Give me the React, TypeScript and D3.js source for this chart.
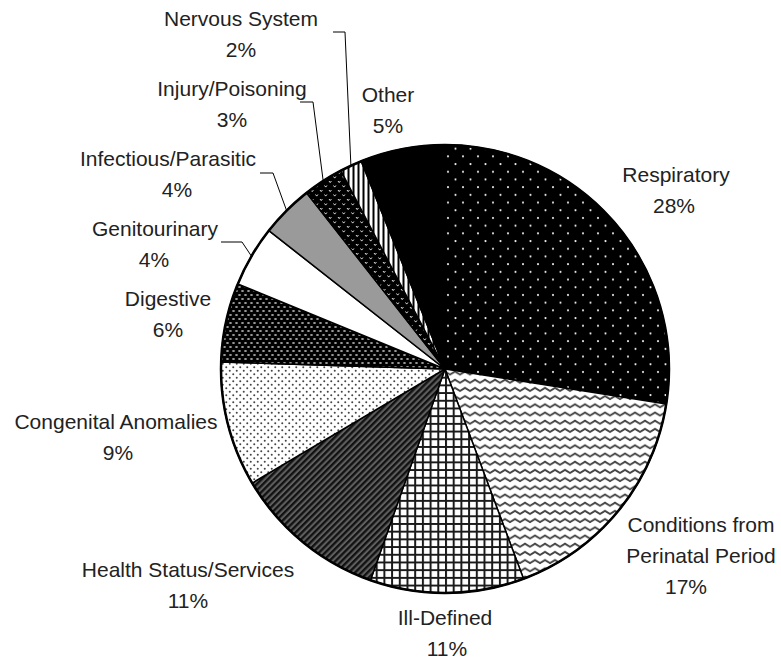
import React from "react"
import * as d3 from "d3"

// slice order is clockwise from 12 o'clock
const categories = [
  "Respiratory",
  "Conditions from Perinatal Period",
  "Ill-Defined",
  "Health Status/Services",
  "Congenital Anomalies",
  "Digestive",
  "Genitourinary",
  "Infectious/Parasitic",
  "Injury/Poisoning",
  "Nervous System",
  "Other",
]
const shares = [27.5, 16.8, 11.1, 11.1, 9.0, 5.7, 4.4, 3.8, 2.9, 1.6, 6.1]
const pctLabels = ["28%", "17%", "11%", "11%", "9%", "6%", "4%", "4%", "3%", "2%", "5%"]

// label lines and where the label block sits (centre of first line)
const labelLines = [
  ["Respiratory"],
  ["Conditions from", "Perinatal Period"],
  ["Ill-Defined"],
  ["Health Status/Services"],
  ["Congenital Anomalies"],
  ["Digestive"],
  ["Genitourinary"],
  ["Infectious/Parasitic"],
  ["Injury/Poisoning"],
  ["Nervous System"],
  ["Other"],
]
const labelPos = [
  [676, 174], [701, 524], [445, 617], [188, 569], [116, 421], [168, 298],
  [155, 228], [168, 158], [232, 88], [241, 18], [388, 94],
]
const pctX = [674, 686, 447, 188, 118, 168, 154, 177, 232, 241, 388]
// leader: [startX, elbowX, y] for small slices
const leaders: (number[] | null)[] = [
  null, null, null, null, null, null,
  [221, 242, 242], [260, 273, 173], [300, 313, 102], [333, 345, 32], null,
]
const fills = [
  "url(#pResp)", "url(#pWave)", "url(#pGrid)", "url(#pDiag)", "url(#pDots)",
  "url(#pWeave)", "#fff", "#9a9a9a", "url(#pChev)", "url(#pVert)", "#000",
]

const W = 781, H = 661
const cx = 445, cy = 369, R = 224
const lineH = 31

export default function App() {
  const pie = d3.pie<number>().sort(null).value(d => d)
  const arcs = pie(shares)
  const arc = d3.arc<d3.PieArcDatum<number>>().innerRadius(0).outerRadius(R)

  return (
    <svg width={W} height={H} style={{position: "absolute", left: 0, top: 0}}
      fontFamily="'Liberation Sans', Arial, sans-serif" fontSize={21}>
      <defs>
        <pattern id="pResp" width={15} height={15.4} patternUnits="userSpaceOnUse">
          <rect width={15} height={15.4} fill="#000" />
          <circle cx={3} cy={3} r={1.1} fill="#eee" />
          <circle cx={10.5} cy={10.7} r={1.1} fill="#eee" />
        </pattern>
        <pattern id="pWave" width={10} height={8.2} patternUnits="userSpaceOnUse">
          <rect width={10} height={8.2} fill="#fff" />
          <path d="M-2.5,4 L0,2.5 L5,5.5 L10,2.5 L12.5,4" fill="none" stroke="#444" strokeWidth={1.9} />
        </pattern>
        <pattern id="pGrid" width={7.7} height={7.7} patternUnits="userSpaceOnUse">
          <rect width={7.7} height={7.7} fill="#fff" />
          <path d="M1,0 V7.7 M0,1 H7.7" stroke="#1a1a1a" strokeWidth={2} />
        </pattern>
        <pattern id="pDiag" width={4.4} height={10} patternUnits="userSpaceOnUse" patternTransform="rotate(45)">
          <rect width={4.4} height={10} fill="#5e5e5e" />
          <rect width={2.3} height={10} fill="#111" />
        </pattern>
        <pattern id="pDots" width={7} height={7} patternUnits="userSpaceOnUse">
          <rect width={7} height={7} fill="#fff" />
          <circle cx={1.75} cy={1.75} r={1} fill="#444" />
          <circle cx={5.25} cy={5.25} r={1} fill="#444" />
        </pattern>
        <pattern id="pWeave" width={6} height={8} patternUnits="userSpaceOnUse">
          <rect width={6} height={8} fill="#000" />
          <ellipse cx={1.5} cy={2} rx={1.5} ry={0.8} fill="#d8d8d8" />
          <ellipse cx={4.5} cy={6} rx={1.5} ry={0.8} fill="#d8d8d8" />
        </pattern>
        <pattern id="pChev" width={9} height={9} patternUnits="userSpaceOnUse">
          <rect width={9} height={9} fill="#000" />
          <path d="M1,1 L2.2,2.6 L3.4,1 M5.5,5.5 L6.7,7.1 L7.9,5.5" fill="none" stroke="#ddd" strokeWidth={1} />
        </pattern>
        <pattern id="pVert" width={5} height={5} patternUnits="userSpaceOnUse">
          <rect width={5} height={5} fill="#fff" />
          <rect x={2.5} width={2} height={5} fill="#000" />
        </pattern>
      </defs>

      <g transform={`translate(${cx},${cy})`}>
        {arcs.map((a, i) => (
          <path key={i} d={arc(a) || ""} fill={fills[i]} stroke="#000" strokeWidth={1.5} />
        ))}
        <circle r={R} fill="none" stroke="#000" strokeWidth={2.5} />
      </g>

      {arcs.map((a, i) => {
        const ld = leaders[i]
        if (!ld) return null
        const mid = (a.startAngle + a.endAngle) / 2
        const ex = cx + R * Math.sin(mid)
        const ey = cy - R * Math.cos(mid)
        return (
          <polyline key={"l" + i} points={`${ld[0]},${ld[2]} ${ld[1]},${ld[2]} ${ex},${ey}`}
            fill="none" stroke="#000" strokeWidth={1} />
        )
      })}

      {categories.map((c, i) => {
        const [x, y] = labelPos[i]
        const lines = labelLines[i]
        return (
          <text key={c} textAnchor="middle" fill="#222">
            {lines.map((t, j) => (
              <tspan key={j} x={x} y={y + j * lineH} dy="0.36em">{t}</tspan>
            ))}
            <tspan x={pctX[i]} y={y + lines.length * lineH} dy="0.36em">{pctLabels[i]}</tspan>
          </text>
        )
      })}
    </svg>
  )
}
